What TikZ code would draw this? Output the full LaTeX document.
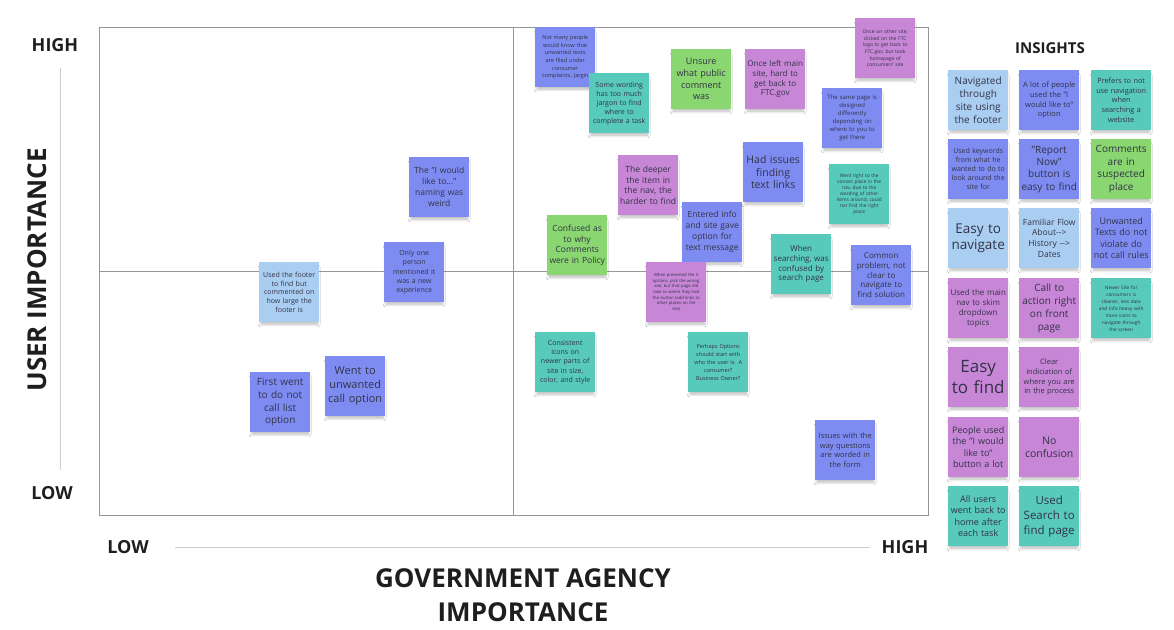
\documentclass[tikz,border=0pt]{standalone}
\usepackage{fontspec}
\setmainfont{Open Sans}
\usetikzlibrary{shadows.blur}
\definecolor{cBlue}{RGB}{126,140,242}
\definecolor{cLight}{RGB}{170,206,242}
\definecolor{cTeal}{RGB}{88,202,188}
\definecolor{cGreen}{RGB}{138,214,112}
\definecolor{cPurple}{RGB}{200,134,215}
\definecolor{cText}{RGB}{50,50,70}
\definecolor{cFrame}{RGB}{150,150,150}
\definecolor{cAxis}{RGB}{205,205,205}
\definecolor{cLabel}{RGB}{30,30,30}
\begin{document}
\begin{tikzpicture}[x=1pt,y=-1pt,
  note/.style={anchor=north west, minimum width=60pt, minimum height=60pt, inner sep=2pt,
    text width=56pt, align=center, text=cText,
    blur shadow={shadow xshift=0pt, shadow yshift=-4pt, shadow scale=0.94,
      shadow blur radius=3pt, shadow blur steps=8, shadow opacity=28}},
  txt/.style 2 args={font=\fontsize{#1}{#2}\selectfont},
  axlab/.style={font=\bfseries\fontsize{18}{20}\selectfont, text=cLabel, inner sep=0pt},
  titlelab/.style={font=\bfseries\fontsize{26}{30}\selectfont, text=cLabel, inner sep=0pt},
  frame/.style={draw=cFrame, line width=0.9pt},
  axisline/.style={draw=cAxis, line width=0.9pt}
]
\fill[white] (0,0) rectangle (1174,629);
\useasboundingbox (0,0) rectangle (1174,629);

% frame and quadrant lines
\coordinate (ftl) at (99,27);
\coordinate (fbr) at (928,515);
\coordinate (vtop) at (513,27);
\coordinate (vbot) at (513,515);
\coordinate (hleft) at (99,271);
\coordinate (hright) at (928,271);
\draw[frame] (ftl) rectangle (fbr);
\draw[frame] (vtop) -- (vbot);
\draw[frame] (hleft) -- (hright);

% axes
\node[axlab] (yhigh) at (55,45) {HIGH};
\node[axlab] (ylow) at (52,493) {LOW};
\coordinate (ya) at (60,68);
\coordinate (yb) at (60,470);
\draw[axisline] (ya) -- (yb);
\node[titlelab, rotate=90] (ytitle) at (37,270) {USER IMPORTANCE};
\node[axlab] (xlow) at (128,547) {LOW};
\node[axlab] (xhigh) at (905,547) {HIGH};
\coordinate (xa) at (175,547);
\coordinate (xb) at (870,547);
\draw[axisline] (xa) -- (xb);
\node[titlelab] (xt1) at (523,578) {GOVERNMENT AGENCY};
\node[titlelab] (xt2) at (523,612) {IMPORTANCE};

% chart notes
\node[note, fill=cBlue, txt={5.6}{7.6}] (n1) at (535,27) {Not many people\\would know that\\unwanted texts\\are filed under\\consumer\\complaints, Jargin};
\node[note, fill=cTeal, txt={7}{9}] (n2) at (589,73) {Some wording\\has too much\\jargon to find\\where to\\complete a task};
\node[note, fill=cGreen, txt={9}{11.7}] (n3) at (671,49) {Unsure\\what public\\comment\\was};
\node[note, fill=cPurple, txt={8}{9.6}] (n4) at (745,49) {Once left main\\site, hard to\\get back to\\FTC.gov};
\node[note, fill=cPurple, txt={5}{6.7}] (n5) at (855,18) {Once on other site,\\clicked on the FTC\\logo to get back to\\FTC.gov, but took\\homepage of\\consumers' site};
\node[note, fill=cBlue, txt={6}{8}] (n6) at (822,88) {The same page is\\designed\\differently\\depending on\\where to you to\\get there};
\node[note, fill=cPurple, txt={8.5}{10.7}] (n7) at (618,155) {The deeper\\the item in\\the nav, the\\harder to find};
\node[note, fill=cBlue, txt={10.5}{12.5}] (n8) at (743,142) {Had issues\\finding\\text links};
\node[note, fill=cTeal, txt={4.8}{5.9}] (n9) at (829,164) {Went right to the\\correct place in the\\nav, due to the\\wording of other\\items around, could\\not find the right\\place};
\node[note, fill=cBlue, txt={8.5}{11}] (n10) at (682,202) {Entered info\\and site gave\\option for\\text message};
\node[note, fill=cGreen, txt={8.5}{10.7}] (n11) at (547,215) {Confused as\\to why\\Comments\\were in Policy};
\node[note, fill=cPurple, txt={4.2}{5.6}] (n12) at (646,262) {When presented the 3\\options, pick the wrong\\one, but that page did\\take to where they had\\the button (add links to\\other places on the\\site)};
\node[note, fill=cTeal, txt={8}{9.7}] (n13) at (771,234) {When\\searching, was\\confused by\\search page};
\node[note, fill=cBlue, txt={8}{9.7}] (n14) at (851,245) {Common\\problem, not\\clear to\\navigate to\\find solution};
\node[note, fill=cTeal, txt={7}{9.4}] (n15) at (535,332) {Consistent\\icons on\\newer parts of\\site in size,\\color, and style};
\node[note, fill=cTeal, txt={5.5}{8}] (n16) at (688,332) {Perhaps Options\\should start with\\who the user is. A\\consumer?\\Business Owner?};
\node[note, fill=cBlue, txt={7.5}{9.6}] (n17) at (815,420) {Issues with the\\way questions\\are worded in\\the form};
\node[note, fill=cBlue, txt={8.5}{11}] (n18) at (409,157) {The "I would\\like to..."\\naming was\\weird};
\node[note, fill=cBlue, txt={7}{9.3}] (n19) at (384,242) {Only one\\person\\mentioned it\\was a new\\experience};
\node[note, fill=cLight, txt={7}{8.8}] (n20) at (259,262) {Used the footer\\to find but\\commented on\\how large the\\footer is};
\node[note, fill=cBlue, txt={11}{14}] (n21) at (325,356) {Went to\\unwanted\\call option};
\node[note, fill=cBlue, txt={10}{12.7}] (n22) at (250,372) {First went\\to do not\\call list\\option};

% insights
\node[font=\bfseries\fontsize{15}{17}\selectfont, text=cLabel] (ins) at (1050,48) {INSIGHTS};
\node[note, fill=cLight, txt={10}{12.7}] (i1) at (948,70) {Navigated\\through\\site using\\the footer};
\node[note, fill=cBlue, txt={7.5}{9.7}] (i2) at (1019,70) {A lot of people\\used the "I\\would like to"\\option};
\node[note, fill=cTeal, txt={7.3}{9.7}] (i3) at (1091,70) {Prefers to not\\use navigation\\when\\searching a\\website};
\node[note, fill=cBlue, txt={7}{9}] (i4) at (948,139) {Used keywords\\from what he\\wanted to do to\\look around the\\site for};
\node[note, fill=cBlue, txt={10}{12.3}] (i5) at (1019,139) {"Report\\Now"\\button is\\easy to find};
\node[note, fill=cGreen, txt={10}{12.7}] (i6) at (1091,139) {Comments\\are in\\suspected\\place};
\node[note, fill=cLight, txt={13.5}{16}] (i7) at (948,208) {Easy to\\navigate};
\node[note, fill=cLight, txt={8.5}{10.8}] (i8) at (1019,208) {Familiar Flow\\About-{}->\\History -{}->\\Dates};
\node[note, fill=cBlue, txt={9}{11.5}] (i9) at (1091,208) {Unwanted\\Texts do not\\violate do\\not call rules};
\node[note, fill=cPurple, txt={8}{10}] (i10) at (948,278) {Used the main\\nav to skim\\dropdown\\topics};
\node[note, fill=cPurple, txt={10}{12.8}] (i11) at (1019,278) {Call to\\action right\\on front\\page};
\node[note, fill=cTeal, txt={4.8}{7}] (i12) at (1091,278) {Newer Site for\\consumers is\\cleaner, less data\\and info heavy with\\more icons to\\navigate through\\the screen};
\node[note, fill=cPurple, txt={17}{21}] (i13) at (948,347) {Easy\\to find};
\node[note, fill=cPurple, txt={7.5}{9.7}] (i14) at (1019,347) {Clear\\indiciation of\\where you are\\in the process};
\node[note, fill=cPurple, txt={9}{11.4}] (i15) at (948,417) {People used\\the "I would\\like to"\\button a lot};
\node[note, fill=cPurple, txt={10.5}{13.3}] (i16) at (1019,417) {No\\confusion};
\node[note, fill=cTeal, txt={9}{11.4}] (i17) at (948,486) {All users\\went back to\\home after\\each task};
\node[note, fill=cTeal, txt={11.5}{15}] (i18) at (1019,486) {Used\\Search to\\find page};
\end{tikzpicture}
\end{document}
